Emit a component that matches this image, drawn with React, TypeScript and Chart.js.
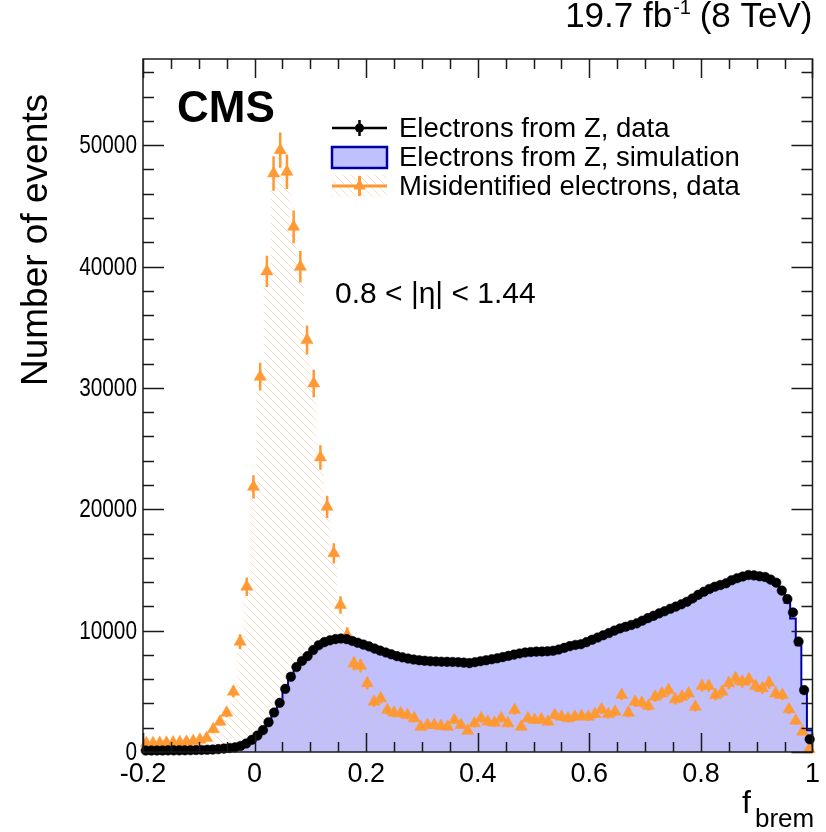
import React, { useEffect, useRef } from 'react';
import { Chart, registerables } from 'chart.js';

Chart.register(...registerables);

// ---------------- data ----------------
const X_MIN = -0.2;
const X_MAX = 1.0;
const Y_MAX = 57100;
const Z_BIN_WIDTH = 0.01; // 120 bins
const MISID_BIN_WIDTH = 0.012; // 100 bins

const X_TICKS = [-0.2, 0, 0.2, 0.4, 0.6, 0.8, 1];
const X_TICK_LABELS = ['-0.2', '0', '0.2', '0.4', '0.6', '0.8', '1'];
const Y_TICKS = [0, 10000, 20000, 30000, 40000, 50000];
const Y_TICK_LABELS = ['0', '10000', '20000', '30000', '40000', '50000'];

// Electrons from Z, data
const Z_DATA = [
  120, 120, 125, 125, 130, 130, 135, 140, 150, 160,
  170, 185, 205, 235, 280, 330, 380, 500, 700, 1000,
  1350, 1800, 2450, 3250, 4050, 5200, 6200, 7000, 7500, 7900,
  8400, 8800, 9050, 9200, 9300, 9350, 9300, 9150, 9000, 8850,
  8700, 8520, 8350, 8200, 8050, 7900, 7800, 7700, 7620, 7560,
  7520, 7480, 7460, 7440, 7430, 7420, 7400, 7360, 7320, 7400,
  7480, 7560, 7640, 7720, 7820, 7920, 8020, 8120, 8200, 8240,
  8270, 8280, 8300, 8340, 8440, 8580, 8720, 8820, 8880, 9050,
  9250, 9430, 9620, 9800, 10000, 10180, 10320, 10460, 10600, 10820,
  11030, 11220, 11420, 11600, 11800, 11980, 12170, 12380, 12650, 12950,
  13200, 13430, 13620, 13760, 13900, 14150, 14320, 14460, 14580, 14550,
  14480, 14420, 14200, 13950, 13300, 12600, 11500, 9100, 5100, 1050,
];

// Electrons from Z, simulation
const Z_SIM = [
  110, 110, 115, 120, 120, 125, 130, 135, 140, 150,
  160, 175, 195, 225, 270, 320, 390, 490, 700, 980,
  1330, 1800, 2480, 3300, 4150, 5250, 6250, 7050, 7600, 8000,
  8500, 8900, 9150, 9350, 9450, 9480, 9450, 9330, 9180, 9020,
  8860, 8700, 8530, 8370, 8210, 8060, 7940, 7830, 7740, 7660,
  7600, 7560, 7520, 7490, 7470, 7450, 7430, 7400, 7380, 7400,
  7450, 7520, 7600, 7680, 7780, 7880, 7980, 8070, 8150, 8200,
  8230, 8250, 8270, 8310, 8400, 8520, 8650, 8750, 8820, 8980,
  9150, 9330, 9520, 9700, 9880, 10050, 10200, 10350, 10500, 10700,
  10900, 11080, 11280, 11460, 11650, 11830, 12020, 12220, 12470, 12750,
  13000, 13230, 13420, 13580, 13720, 13950, 14130, 14280, 14400, 14400,
  14350, 14280, 14050, 13750, 13100, 12300, 11000, 8800, 4900, 1800,
];

// Misidentified electrons, data
const MISID_DATA = [
  720, 720, 740, 760, 780, 800, 840, 900, 1000, 1150,
  1870, 2500, 3240, 4970, 9090, 13620, 21850, 30920, 39600, 47670,
  49590, 47800, 43270, 39980, 33940, 30370, 24270, 20200, 16370, 12110,
  9640, 7300, 7100, 5660, 4140, 4420, 3460, 3240, 3190, 3050,
  2780, 2080, 2220, 2220, 2140, 2080, 2640, 2220, 1750, 2360,
  2780, 2500, 2410, 2780, 2360, 3460, 2080, 2780, 2640, 2690,
  2500, 3050, 2910, 2780, 2910, 2970, 2910, 3130, 3520, 3130,
  3320, 4700, 3240, 4140, 4060, 3790, 4560, 4830, 5110, 4340,
  4560, 4830, 3730, 5440, 5440, 4700, 4970, 5660, 6070, 5790,
  5990, 5440, 5250, 5710, 4830, 4700, 3520, 2580, 1670, 220,
];
const MISID_ERR_SCALE = 6.5; // stat. error bar = scale * sqrt(N)

// ---------------- styles ----------------
const FONT = '"Liberation Sans", Arial, Helvetica, sans-serif';
const ORANGE = '#ff9933';
const SIM_FILL = 'rgb(192,192,255)';
const SIM_LINE = '#0000a0';
const HATCH_COLOR = 'rgba(255,180,120,0.42)';

function makeHatch(): CanvasPattern | string {
  const c = document.createElement('canvas');
  const s = 8;
  c.width = s;
  c.height = s;
  const g = c.getContext('2d');
  if (!g) return HATCH_COLOR;
  g.strokeStyle = HATCH_COLOR;
  g.lineWidth = 1;
  g.beginPath();
  g.moveTo(-1, -1);
  g.lineTo(s + 1, s + 1);
  g.moveTo(-1, s - 1);
  g.lineTo(1, s + 1);
  g.moveTo(s - 1, -1);
  g.lineTo(s + 1, 1);
  g.stroke();
  const p = g.createPattern(c, 'repeat');
  return p || HATCH_COLOR;
}

function stepPoints(values: number[], width: number) {
  const pts: { x: number; y: number }[] = [{ x: X_MIN, y: 0 }];
  values.forEach((v, i) => pts.push({ x: X_MIN + i * width, y: v }));
  pts.push({ x: X_MIN + values.length * width, y: values[values.length - 1] });
  pts.push({ x: X_MIN + values.length * width, y: 0 });
  return pts;
}

function centerPoints(values: number[], width: number) {
  return values.map((v, i) => ({ x: X_MIN + (i + 0.5) * width, y: v }));
}

const frameAndTextPlugin = {
  id: 'cmsDecor',
  beforeDatasetDraw(chart: any, args: any) {
    if (args.index !== 1) return;
    const { ctx, scales } = chart;
    const xs = scales.x;
    const ys = scales.y;
    ctx.save();
    ctx.strokeStyle = ORANGE;
    ctx.lineWidth = 2.5;
    ctx.beginPath();
    MISID_DATA.forEach((v, i) => {
      const e = MISID_ERR_SCALE * Math.sqrt(v);
      const px = xs.getPixelForValue(X_MIN + (i + 0.5) * MISID_BIN_WIDTH);
      ctx.moveTo(px, ys.getPixelForValue(v + e));
      ctx.lineTo(px, ys.getPixelForValue(Math.max(0, v - e)));
    });
    ctx.stroke();
    ctx.restore();
  },
  afterDraw(chart: any) {
    const { ctx, chartArea: a, scales } = chart;
    const xs = scales.x;
    const ys = scales.y;
    ctx.save();
    // frame
    ctx.strokeStyle = '#1a1a1a';
    ctx.lineWidth = 1.5;
    ctx.strokeRect(a.left, a.top, a.right - a.left, a.bottom - a.top);
    ctx.beginPath();
    for (let i = 0; i <= 24; i++) {
      const v = X_MIN + i * 0.05;
      const px = Math.round(xs.getPixelForValue(v)) + 0.5;
      const len = i % 4 === 0 ? 19 : 10;
      ctx.moveTo(px, a.bottom);
      ctx.lineTo(px, a.bottom - len);
      ctx.moveTo(px, a.top);
      ctx.lineTo(px, a.top + len);
    }
    for (let v = 0; v <= Y_MAX; v += 2000) {
      const py = Math.round(ys.getPixelForValue(v)) + 0.5;
      const len = v % 10000 === 0 ? 21 : 11;
      ctx.moveTo(a.left, py);
      ctx.lineTo(a.left + len, py);
      ctx.moveTo(a.right, py);
      ctx.lineTo(a.right - len, py);
    }
    ctx.stroke();

    // y tick labels (slightly condensed, as in the original)
    ctx.fillStyle = '#000';
    ctx.font = `26px ${FONT}`;
    ctx.textAlign = 'right';
    ctx.textBaseline = 'middle';
    Y_TICKS.forEach((v, i) => {
      const py = ys.getPixelForValue(v);
      ctx.save();
      ctx.translate(a.left - 6, py + 1);
      ctx.scale(0.8, 1);
      ctx.fillText(Y_TICK_LABELS[i], 0, 0);
      ctx.restore();
    });

    // texts
    ctx.textBaseline = 'alphabetic';
    ctx.textAlign = 'left';
    ctx.font = `bold 44px ${FONT}`;
    ctx.fillText('CMS', 177, 122);

    ctx.font = `30px ${FONT}`;
    ctx.fillText('0.8 < |\u03b7| < 1.44', 335, 303);

    // title
    ctx.font = `35px ${FONT}`;
    const t1 = '19.7 fb';
    const t3 = ' (8 TeV)';
    const w1 = ctx.measureText(t1).width;
    const w3 = ctx.measureText(t3).width;
    ctx.font = `20px ${FONT}`;
    const w2 = ctx.measureText('-1').width;
    const right = a.right;
    const sx = right - (w1 + w2 + w3);
    ctx.font = `35px ${FONT}`;
    ctx.fillText(t1, sx, 27);
    ctx.font = `20px ${FONT}`;
    ctx.fillText('-1', sx + w1 + 1, 14);
    ctx.font = `35px ${FONT}`;
    ctx.fillText(t3, sx + w1 + w2, 27);

    // axis titles
    ctx.font = `32px ${FONT}`;
    ctx.fillText('f', 742, 813);
    ctx.font = `26px ${FONT}`;
    ctx.fillText('brem', 755, 827);

    ctx.save();
    ctx.translate(37, 240);
    ctx.rotate(-Math.PI / 2);
    ctx.textAlign = 'center';
    ctx.textBaseline = 'middle';
    ctx.font = `37px ${FONT}`;
    ctx.fillText('Number of events', 0, 0);
    ctx.restore();

    // legend
    const lx0 = 332;
    const lx1 = 387;
    const lxm = (lx0 + lx1) / 2;
    const rows = [128, 157, 186];
    // row 1
    ctx.strokeStyle = '#000';
    ctx.lineWidth = 2.5;
    ctx.beginPath();
    ctx.moveTo(lx0, rows[0]);
    ctx.lineTo(lx1, rows[0]);
    ctx.moveTo(lxm, rows[0] - 8);
    ctx.lineTo(lxm, rows[0] + 8);
    ctx.stroke();
    ctx.fillStyle = '#000';
    ctx.beginPath();
    ctx.arc(lxm, rows[0], 4.5, 0, Math.PI * 2);
    ctx.fill();
    // row 2
    ctx.fillStyle = SIM_FILL;
    ctx.fillRect(lx0, rows[1] - 10, lx1 - lx0, 21);
    ctx.strokeStyle = SIM_LINE;
    ctx.lineWidth = 2.5;
    ctx.strokeRect(lx0, rows[1] - 10, lx1 - lx0, 21);
    // row 3
    ctx.fillStyle = chart.$hatch || HATCH_COLOR;
    ctx.fillRect(lx0, rows[2] - 11, lx1 - lx0, 22);
    ctx.strokeStyle = ORANGE;
    ctx.lineWidth = 3;
    ctx.beginPath();
    ctx.moveTo(lx0, rows[2]);
    ctx.lineTo(lx1, rows[2]);
    ctx.moveTo(lxm, rows[2] - 10);
    ctx.lineTo(lxm, rows[2] + 10);
    ctx.stroke();
    ctx.fillStyle = ORANGE;
    ctx.beginPath();
    const r = 7;
    ctx.moveTo(lxm, rows[2] - r);
    ctx.lineTo(lxm + 0.866 * r, rows[2] + r / 2);
    ctx.lineTo(lxm - 0.866 * r, rows[2] + r / 2);
    ctx.closePath();
    ctx.fill();

    ctx.fillStyle = '#000';
    ctx.font = `27.5px ${FONT}`;
    ctx.textBaseline = 'middle';
    ctx.fillText('Electrons from Z, data', 399, rows[0] + 1);
    ctx.fillText('Electrons from Z, simulation', 399, rows[1] + 1);
    ctx.fillText('Misidentified electrons, data', 399, rows[2] + 1);
    ctx.restore();
  },
};

export default function App() {
  const ref = useRef<HTMLCanvasElement | null>(null);

  useEffect(() => {
    if (!ref.current) return;
    const hatch = makeHatch();
    const chart: any = new Chart(ref.current, {
      type: 'line',
      data: {
        datasets: [
          {
            label: 'Electrons from Z, data',
            data: centerPoints(Z_DATA, Z_BIN_WIDTH),
            showLine: false,
            pointStyle: 'circle',
            pointRadius: 4.8,
            pointBackgroundColor: '#000',
            pointBorderColor: '#000',
            pointBorderWidth: 0.5,
            clip: 6,
          } as any,
          {
            label: 'Misidentified electrons, data',
            data: centerPoints(MISID_DATA, MISID_BIN_WIDTH),
            showLine: false,
            pointStyle: 'triangle',
            pointRadius: 7,
            pointBackgroundColor: ORANGE,
            pointBorderColor: ORANGE,
            pointBorderWidth: 0.5,
            clip: 6,
          } as any,
          {
            label: 'misid fill',
            data: stepPoints(MISID_DATA, MISID_BIN_WIDTH),
            stepped: 'before',
            borderWidth: 0,
            borderColor: 'rgba(0,0,0,0)',
            backgroundColor: hatch,
            fill: 'origin',
            pointRadius: 0,
          } as any,
          {
            label: 'Electrons from Z, simulation',
            data: stepPoints(Z_SIM, Z_BIN_WIDTH),
            stepped: 'before',
            borderWidth: 2,
            borderColor: SIM_LINE,
            backgroundColor: SIM_FILL,
            fill: 'origin',
            pointRadius: 0,
          } as any,
        ],
      },
      options: {
        animation: false,
        responsive: true,
        maintainAspectRatio: false,
        events: [],
        layout: { padding: { top: 59, right: 8, left: 0, bottom: 0 } },
        plugins: {
          legend: { display: false },
          title: { display: false },
          tooltip: { enabled: false },
        },
        scales: {
          x: {
            type: 'linear',
            min: X_MIN,
            max: X_MAX,
            grid: { display: false, drawTicks: false },
            border: { display: false },
            afterFit: (s: any) => {
              s.height = 80;
            },
            afterBuildTicks: (s: any) => {
              s.ticks = X_TICKS.map((v) => ({ value: v }));
            },
            ticks: {
              autoSkip: false,
              maxRotation: 0,
              padding: 6,
              color: '#000',
              font: { family: FONT, size: 27 },
              callback: (v: any) => X_TICK_LABELS[X_TICKS.indexOf(Number(v))] ?? '',
            },
          },
          y: {
            type: 'linear',
            min: 0,
            max: Y_MAX,
            grid: { display: false, drawTicks: false },
            border: { display: false },
            afterFit: (s: any) => {
              s.width = 143;
            },
            afterBuildTicks: (s: any) => {
              s.ticks = Y_TICKS.map((v) => ({ value: v }));
            },
            ticks: {
              display: false,
            },
          },
        },
      },
      plugins: [frameAndTextPlugin],
    } as any);
    chart.$hatch = hatch;
    chart.draw();
    return () => chart.destroy();
  }, []);

  return (
    <div style={{ position: 'fixed', left: 0, top: 0, width: 826, height: 832, background: '#fff' }}>
      <canvas ref={ref} />
    </div>
  );
}
